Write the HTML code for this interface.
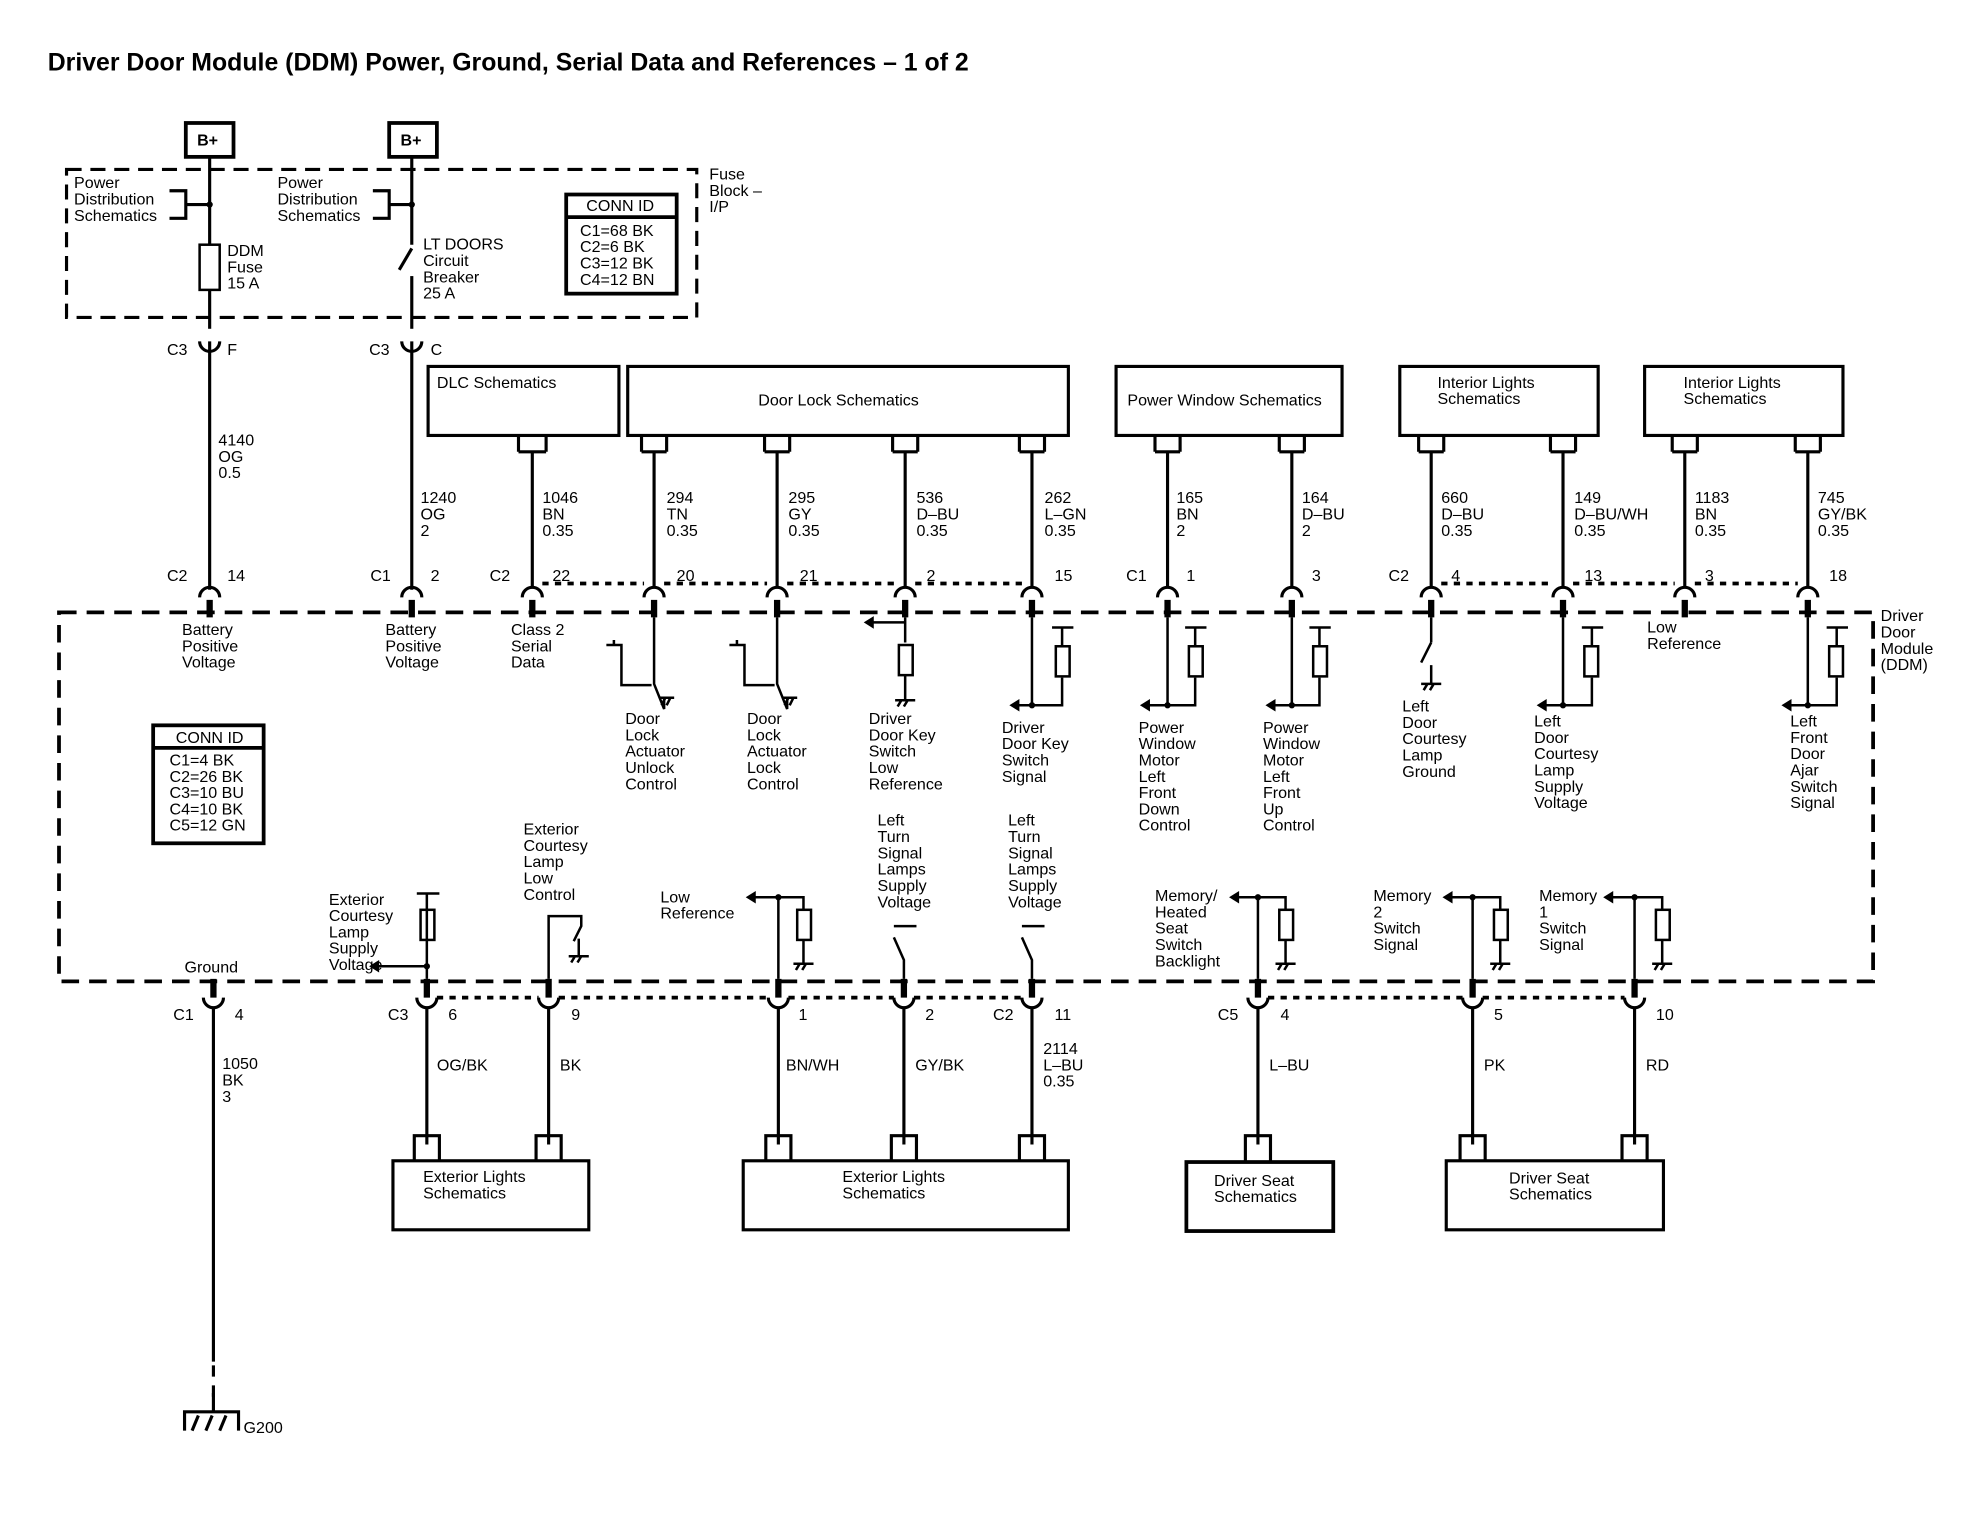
<!DOCTYPE html>
<html><head><meta charset="utf-8"><style>
html,body{margin:0;padding:0;background:#fff}
svg{display:block}
text{font-family:"Liberation Sans",sans-serif;font-size:12.8px;fill:#000}
.t{font-size:19.8px;font-weight:bold}
</style></head><body>
<svg width="1966" height="1536" viewBox="0 0 1566 1224" preserveAspectRatio="none" xmlns="http://www.w3.org/2000/svg">
<rect width="1566" height="1224" fill="#fff"/>
<text x="38" y="56" class="t">Driver Door Module (DDM) Power, Ground, Serial Data and References – 1 of 2</text>
<g fill="none" stroke="#000" stroke-width="2.5">
<rect x="148" y="98" width="38" height="27" stroke-width="3"/>
<rect x="310" y="98" width="38" height="27" stroke-width="3"/>
<rect x="53" y="135" width="502" height="118" stroke-dasharray="12,7"/>
<rect x="47" y="488" width="1445" height="294" stroke-dasharray="14,8" stroke-width="3"/>
<line x1="167" y1="125" x2="167" y2="195"/><rect x="159" y="195" width="16" height="36" stroke-width="2"/><line x1="167" y1="231" x2="167" y2="262"/>
<line x1="328" y1="125" x2="328" y2="195"/><line x1="328" y1="198" x2="318" y2="215"/><line x1="328" y1="220" x2="328" y2="262"/>
<path d="M135 152 H148 V174 H135" /><line x1="148" y1="163" x2="167" y2="163"/>
<path d="M297 152 H310 V174 H297" /><line x1="310" y1="163" x2="328" y2="163"/>
<rect x="451" y="155" width="88" height="79" stroke-width="3"/><line x1="451" y1="173" x2="539" y2="173" stroke-width="3"/>
<path d="M159 272 a8 8 0 0 0 16 0"/><path d="M320 272 a8 8 0 0 0 16 0"/>
<line x1="167" y1="272" x2="167" y2="470"/><line x1="328" y1="272" x2="328" y2="470"/>
<rect x="341" y="292" width="152" height="55"/><rect x="500" y="292" width="351" height="55"/>
<rect x="889" y="292" width="180" height="55"/><rect x="1115" y="292" width="158" height="55"/><rect x="1310" y="292" width="158" height="55"/>
<rect x="313" y="925" width="156" height="55"/><rect x="592" y="925" width="259" height="55"/>
<rect x="945" y="926" width="117" height="55" stroke-width="3"/><rect x="1152" y="925" width="173" height="55"/>
<rect x="122" y="578" width="88" height="94" stroke-width="3"/><line x1="122" y1="596" x2="210" y2="596" stroke-width="3"/>
</g>
<g fill="none" stroke="#000" stroke-width="2.5">
<path d="M413 360 V347 M435 360 V347 M413 360 H435 M424 360 V468"/>
<path d="M511 360 V347 M531 360 V347 M511 360 H531 M521 360 V468"/>
<path d="M609 360 V347 M629 360 V347 M609 360 H629 M619 360 V468"/>
<path d="M711 360 V347 M731 360 V347 M711 360 H731 M721 360 V468"/>
<path d="M812 360 V347 M832 360 V347 M812 360 H832 M822 360 V468"/>
<path d="M920 360 V347 M940 360 V347 M920 360 H940 M930 360 V468"/>
<path d="M1019 360 V347 M1039 360 V347 M1019 360 H1039 M1029 360 V468"/>
<path d="M1130 360 V347 M1150 360 V347 M1130 360 H1150 M1140 360 V468"/>
<path d="M1235 360 V347 M1255 360 V347 M1235 360 H1255 M1245 360 V468"/>
<path d="M1332 360 V347 M1352 360 V347 M1332 360 H1352 M1342 360 V468"/>
<path d="M1430 360 V347 M1450 360 V347 M1430 360 H1450 M1440 360 V468"/>
</g>
<g fill="none" stroke="#000" stroke-width="2.5">
<path d="M159 476 a8 8 0 0 1 16 0 M320 476 a8 8 0 0 1 16 0 M416 476 a8 8 0 0 1 16 0 M513 476 a8 8 0 0 1 16 0 M611 476 a8 8 0 0 1 16 0 M713 476 a8 8 0 0 1 16 0 M814 476 a8 8 0 0 1 16 0 M922 476 a8 8 0 0 1 16 0 M1021 476 a8 8 0 0 1 16 0 M1132 476 a8 8 0 0 1 16 0 M1237 476 a8 8 0 0 1 16 0 M1334 476 a8 8 0 0 1 16 0 M1432 476 a8 8 0 0 1 16 0"/>
<path d="M432 465 H513 M529 465 H611 M627 465 H713 M729 465 H814 M1148 465 H1237 M1253 465 H1334 M1350 465 H1432" stroke-dasharray="5,5" stroke-width="3"/>
</g>
<g stroke="#000" stroke-width="5">
<path d="M167 478 V492 M328 478 V492 M424 478 V492 M521 478 V492 M619 478 V492 M721 478 V492 M822 478 V492 M930 478 V492 M1029 478 V492 M1140 478 V492 M1245 478 V492 M1342 478 V492 M1440 478 V492"/>
<path d="M170 780 V795 M340 780 V795 M437 780 V795 M620 780 V795 M720 780 V795 M822 780 V795 M1002 780 V795 M1173 780 V795 M1302 780 V795"/>
</g>
<g fill="none" stroke="#000" stroke-width="2.5">
<path d="M162 795 a8 8 0 0 0 16 0 M332 795 a8 8 0 0 0 16 0 M429 795 a8 8 0 0 0 16 0 M612 795 a8 8 0 0 0 16 0 M712 795 a8 8 0 0 0 16 0 M814 795 a8 8 0 0 0 16 0 M994 795 a8 8 0 0 0 16 0 M1165 795 a8 8 0 0 0 16 0 M1294 795 a8 8 0 0 0 16 0"/>
<path d="M348 795 H429 M445 795 H612 M628 795 H712 M728 795 H814 M1010 795 H1165 M1181 795 H1294" stroke-dasharray="5,5" stroke-width="3"/>
<path d="M170 803 V1085" /><path d="M170 1088 V1120" stroke-dasharray="9,7"/>
<path d="M147 1140 V1125 H190 V1140 M170 1110 V1125 M153 1140 l5 -12 M164 1140 l5 -12 M175 1140 l5 -12"/>
<path d="M340 803 V912 M437 803 V912 M620 803 V912 M720 803 V912 M822 803 V912 M1002 803 V912 M1173 803 V912 M1302 803 V912"/>
<path d="M330 925 V905 H350 V925 M427 925 V905 H447 V925 M610 925 V905 H630 V925 M710 925 V905 H730 V925 M812 925 V905 H832 V925 M992 926 V905 H1012 V926 M1163 925 V905 H1183 V925 M1292 925 V905 H1312 V925"/>
</g>
<g fill="none" stroke="#000" stroke-width="2">
<path d="M521 492 V545 l8 20 V555"/><path d="M483 514 H495 V546 H519 M489 510 V514"/><path d="M525 556 H537 M527 562 l3 -6 M531 562 l3 -6"/>
<path d="M619 492 V545 l8 20 V555"/><path d="M581 514 H593 V546 H617 M587 510 V514"/><path d="M623 556 H635 M625 562 l3 -6 M629 562 l3 -6"/>
<path d="M721 492 V512 M694 496 H721"/><rect x="716" y="514" width="11" height="24"/><path d="M721 538 V558 M713 558 H729 M715 563 l3 -5 M720 563 l3 -5"/>
<path d="M822 492 V562 H808 M822 562 H846 V540"/><rect x="841" y="515" width="11" height="24"/><path d="M846 515 V500 M838 500 H855"/>
<path d="M930 492 V562 H912 M930 562 H952 V540"/><rect x="947" y="515" width="11" height="24"/><path d="M952 515 V500 M944 500 H961"/>
<path d="M1029 492 V562 H1012 M1029 562 H1051 V540"/><rect x="1046" y="515" width="11" height="24"/><path d="M1051 515 V500 M1043 500 H1060"/>
<path d="M1140 492 V512 M1140 512 l-8 16 M1140 530 V545 M1132 545 H1148 M1134 550 l3 -5 M1139 550 l3 -5"/>
<path d="M1245 492 V562 H1228 M1245 562 H1268 V540"/><rect x="1262" y="515" width="11" height="24"/><path d="M1268 515 V500 M1260 500 H1277"/>
<path d="M1440 492 V562 H1423 M1440 562 H1463 V540"/><rect x="1457" y="515" width="11" height="24"/><path d="M1463 515 V500 M1455 500 H1472"/>
<path d="M340 780 V712 M332 712 H350 M340 770 H300"/><rect x="335" y="725" width="11" height="24"/>
<path d="M437 780 V730 H463 V738 l-6 12 M461 748 V762 M453 762 H469 M455 767 l3 -5 M460 767 l3 -5"/>
<path d="M620 780 V715 H640 V725 M620 715 H600"/><rect x="635" y="725" width="11" height="24"/><path d="M640 749 V768 M632 768 H648 M634 773 l3 -5 M639 773 l3 -5"/>
<path d="M720 780 V765 l-8 -18 M712 738 H730"/>
<path d="M822 780 V765 l-8 -18 M814 738 H832"/>
<path d="M1002 780 V715 H1024 V725 M1002 715 H985"/><rect x="1019" y="725" width="11" height="24"/><path d="M1024 749 V768 M1016 768 H1032 M1018 773 l3 -5 M1023 773 l3 -5"/>
<path d="M1173 780 V715 H1195 V725 M1173 715 H1155"/><rect x="1190" y="725" width="11" height="24"/><path d="M1195 749 V768 M1187 768 H1203 M1189 773 l3 -5 M1194 773 l3 -5"/>
<path d="M1302 780 V715 H1324 V725 M1302 715 H1283"/><rect x="1319" y="725" width="11" height="24"/><path d="M1324 749 V768 M1316 768 H1332 M1318 773 l3 -5 M1323 773 l3 -5"/>
</g>
<g fill="#000">
<path d="M688 496 l8 -5 v10z M804 562 l8 -5 v10z M908 562 l8 -5 v10z M1008 562 l8 -5 v10z M1224 562 l8 -5 v10z M1419 562 l8 -5 v10z M294 770 l8 -5 v10z M594 715 l8 -5 v10z M979 715 l8 -5 v10z M1149 715 l8 -5 v10z M1277 715 l8 -5 v10z"/>
<circle cx="167" cy="163" r="2.5"/><circle cx="328" cy="163" r="2.5"/>
<circle cx="930" cy="562" r="2.5"/><circle cx="1029" cy="562" r="2.5"/><circle cx="822" cy="562" r="2.5"/><circle cx="1245" cy="562" r="2.5"/><circle cx="1440" cy="562" r="2.5"/><circle cx="340" cy="770" r="2.5"/><circle cx="620" cy="715" r="2.5"/><circle cx="1002" cy="715" r="2.5"/><circle cx="1173" cy="715" r="2.5"/><circle cx="1302" cy="715" r="2.5"/>
</g>
<g>
<text x="157" y="116" font-weight="bold">B+</text><text x="319" y="116" font-weight="bold">B+</text>
<text x="59" y="150">Power</text><text x="59" y="163">Distribution</text><text x="59" y="176">Schematics</text>
<text x="221" y="150">Power</text><text x="221" y="163">Distribution</text><text x="221" y="176">Schematics</text>
<text x="181" y="204">DDM</text><text x="181" y="217">Fuse</text><text x="181" y="230">15 A</text>
<text x="337" y="199">LT DOORS</text><text x="337" y="212">Circuit</text><text x="337" y="225">Breaker</text><text x="337" y="238">25 A</text>
<text x="565" y="143">Fuse</text><text x="565" y="156">Block –</text><text x="565" y="169">I/P</text>
<text x="467" y="168">CONN ID</text><text x="462" y="188">C1=68 BK</text><text x="462" y="201">C2=6 BK</text><text x="462" y="214">C3=12 BK</text><text x="462" y="227">C4=12 BN</text>
<text x="133" y="283">C3</text><text x="181" y="283">F</text><text x="294" y="283">C3</text><text x="343" y="283">C</text>
<text x="348" y="309">DLC Schematics</text><text x="604" y="323">Door Lock Schematics</text><text x="898" y="323">Power Window Schematics</text>
<text x="1145" y="309">Interior Lights</text><text x="1145" y="322">Schematics</text><text x="1341" y="309">Interior Lights</text><text x="1341" y="322">Schematics</text>
<text x="174" y="355">4140</text><text x="174" y="368">OG</text><text x="174" y="381">0.5</text>
<text x="335" y="401">1240</text><text x="335" y="414">OG</text><text x="335" y="427">2</text>
<text x="432" y="401">1046</text><text x="432" y="414">BN</text><text x="432" y="427">0.35</text>
<text x="531" y="401">294</text><text x="531" y="414">TN</text><text x="531" y="427">0.35</text>
<text x="628" y="401">295</text><text x="628" y="414">GY</text><text x="628" y="427">0.35</text>
<text x="730" y="401">536</text><text x="730" y="414">D–BU</text><text x="730" y="427">0.35</text>
<text x="832" y="401">262</text><text x="832" y="414">L–GN</text><text x="832" y="427">0.35</text>
<text x="937" y="401">165</text><text x="937" y="414">BN</text><text x="937" y="427">2</text>
<text x="1037" y="401">164</text><text x="1037" y="414">D–BU</text><text x="1037" y="427">2</text>
<text x="1148" y="401">660</text><text x="1148" y="414">D–BU</text><text x="1148" y="427">0.35</text>
<text x="1254" y="401">149</text><text x="1254" y="414">D–BU/WH</text><text x="1254" y="427">0.35</text>
<text x="1350" y="401">1183</text><text x="1350" y="414">BN</text><text x="1350" y="427">0.35</text>
<text x="1448" y="401">745</text><text x="1448" y="414">GY/BK</text><text x="1448" y="427">0.35</text>
<text x="133" y="463">C2</text><text x="181" y="463">14</text><text x="295" y="463">C1</text><text x="343" y="463">2</text>
<text x="390" y="463">C2</text><text x="440" y="463">22</text><text x="539" y="463">20</text><text x="637" y="463">21</text><text x="738" y="463">2</text><text x="840" y="463">15</text>
<text x="897" y="463">C1</text><text x="945" y="463">1</text><text x="1045" y="463">3</text><text x="1106" y="463">C2</text><text x="1156" y="463">4</text><text x="1262" y="463">13</text><text x="1358" y="463">3</text><text x="1457" y="463">18</text>
<text x="1498" y="495">Driver</text><text x="1498" y="508">Door</text><text x="1498" y="521">Module</text><text x="1498" y="534">(DDM)</text>
<text x="145" y="506">Battery</text><text x="145" y="519">Positive</text><text x="145" y="532">Voltage</text>
<text x="307" y="506">Battery</text><text x="307" y="519">Positive</text><text x="307" y="532">Voltage</text>
<text x="407" y="506">Class 2</text><text x="407" y="519">Serial</text><text x="407" y="532">Data</text>
<text x="498" y="577">Door</text><text x="498" y="590">Lock</text><text x="498" y="603">Actuator</text><text x="498" y="616">Unlock</text><text x="498" y="629">Control</text>
<text x="595" y="577">Door</text><text x="595" y="590">Lock</text><text x="595" y="603">Actuator</text><text x="595" y="616">Lock</text><text x="595" y="629">Control</text>
<text x="692" y="577">Driver</text><text x="692" y="590">Door Key</text><text x="692" y="603">Switch</text><text x="692" y="616">Low</text><text x="692" y="629">Reference</text>
<text x="798" y="584">Driver</text><text x="798" y="597">Door Key</text><text x="798" y="610">Switch</text><text x="798" y="623">Signal</text>
<text x="907" y="584">Power</text><text x="907" y="597">Window</text><text x="907" y="610">Motor</text><text x="907" y="623">Left</text><text x="907" y="636">Front</text><text x="907" y="649">Down</text><text x="907" y="662">Control</text>
<text x="1006" y="584">Power</text><text x="1006" y="597">Window</text><text x="1006" y="610">Motor</text><text x="1006" y="623">Left</text><text x="1006" y="636">Front</text><text x="1006" y="649">Up</text><text x="1006" y="662">Control</text>
<text x="1117" y="567">Left</text><text x="1117" y="580">Door</text><text x="1117" y="593">Courtesy</text><text x="1117" y="606">Lamp</text><text x="1117" y="619">Ground</text>
<text x="1222" y="579">Left</text><text x="1222" y="592">Door</text><text x="1222" y="605">Courtesy</text><text x="1222" y="618">Lamp</text><text x="1222" y="631">Supply</text><text x="1222" y="644">Voltage</text>
<text x="1312" y="504">Low</text><text x="1312" y="517">Reference</text>
<text x="1426" y="579">Left</text><text x="1426" y="592">Front</text><text x="1426" y="605">Door</text><text x="1426" y="618">Ajar</text><text x="1426" y="631">Switch</text><text x="1426" y="644">Signal</text>
<text x="140" y="592">CONN ID</text><text x="135" y="610">C1=4 BK</text><text x="135" y="623">C2=26 BK</text><text x="135" y="636">C3=10 BU</text><text x="135" y="649">C4=10 BK</text><text x="135" y="662">C5=12 GN</text>
<text x="417" y="665">Exterior</text><text x="417" y="678">Courtesy</text><text x="417" y="691">Lamp</text><text x="417" y="704">Low</text><text x="417" y="717">Control</text>
<text x="262" y="721">Exterior</text><text x="262" y="734">Courtesy</text><text x="262" y="747">Lamp</text><text x="262" y="760">Supply</text><text x="262" y="773">Voltage</text>
<text x="526" y="719">Low</text><text x="526" y="732">Reference</text>
<text x="699" y="658">Left</text><text x="699" y="671">Turn</text><text x="699" y="684">Signal</text><text x="699" y="697">Lamps</text><text x="699" y="710">Supply</text><text x="699" y="723">Voltage</text>
<text x="803" y="658">Left</text><text x="803" y="671">Turn</text><text x="803" y="684">Signal</text><text x="803" y="697">Lamps</text><text x="803" y="710">Supply</text><text x="803" y="723">Voltage</text>
<text x="920" y="718">Memory/</text><text x="920" y="731">Heated</text><text x="920" y="744">Seat</text><text x="920" y="757">Switch</text><text x="920" y="770">Backlight</text>
<text x="1094" y="718">Memory</text><text x="1094" y="731">2</text><text x="1094" y="744">Switch</text><text x="1094" y="757">Signal</text>
<text x="1226" y="718">Memory</text><text x="1226" y="731">1</text><text x="1226" y="744">Switch</text><text x="1226" y="757">Signal</text>
<text x="147" y="775">Ground</text>
<text x="138" y="813">C1</text><text x="187" y="813">4</text><text x="309" y="813">C3</text><text x="357" y="813">6</text><text x="455" y="813">9</text><text x="636" y="813">1</text><text x="737" y="813">2</text>
<text x="791" y="813">C2</text><text x="840" y="813">11</text><text x="970" y="813">C5</text><text x="1020" y="813">4</text><text x="1190" y="813">5</text><text x="1319" y="813">10</text>
<text x="177" y="852">1050</text><text x="177" y="865">BK</text><text x="177" y="878">3</text>
<text x="348" y="853">OG/BK</text><text x="446" y="853">BK</text><text x="626" y="853">BN/WH</text><text x="729" y="853">GY/BK</text>
<text x="831" y="840">2114</text><text x="831" y="853">L–BU</text><text x="831" y="866">0.35</text>
<text x="1011" y="853">L–BU</text><text x="1182" y="853">PK</text><text x="1311" y="853">RD</text>
<text x="337" y="942">Exterior Lights</text><text x="337" y="955">Schematics</text>
<text x="671" y="942">Exterior Lights</text><text x="671" y="955">Schematics</text>
<text x="967" y="945">Driver Seat</text><text x="967" y="958">Schematics</text>
<text x="1202" y="943">Driver Seat</text><text x="1202" y="956">Schematics</text>
<text x="194" y="1142">G200</text>
</g>
</svg>
</body></html>
